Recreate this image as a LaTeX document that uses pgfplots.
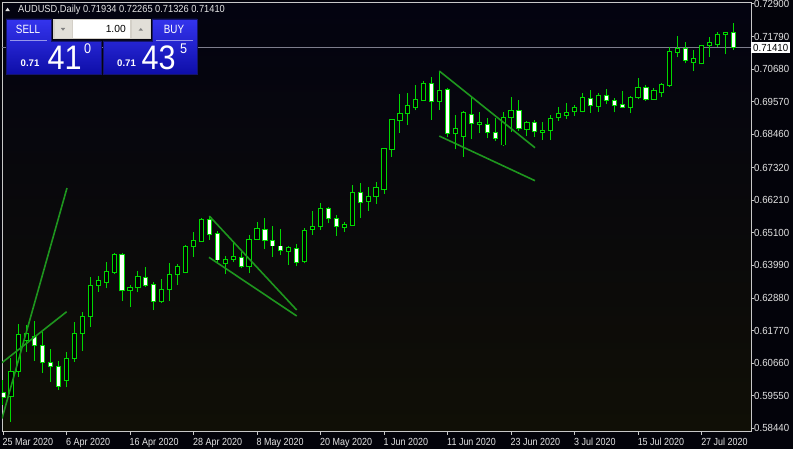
\documentclass[border=0pt]{standalone}
\usepackage{graphicx}
\usepackage{pgfplots}
\pgfplotsset{compat=1.18}
\usepackage{pgfplotstable}
\usepackage{fontspec}
\setmainfont{Liberation Sans}
\definecolor{cgreen}{RGB}{0,215,0}
\definecolor{tgreen}{RGB}{30,150,30}
\definecolor{framegray}{RGB}{200,200,200}
\definecolor{labelgray}{RGB}{228,228,228}
\definecolor{pricegray}{RGB}{125,125,140}
\definecolor{bgtop}{RGB}{3,3,16}
\definecolor{bgbot}{RGB}{16,15,6}
\definecolor{outerbg}{RGB}{3,3,10}
\definecolor{btntop}{RGB}{52,52,238}
\definecolor{btnbot}{RGB}{14,14,168}
\definecolor{btnborder}{RGB}{20,20,110}
\definecolor{spingray}{RGB}{212,208,200}
\definecolor{spinbtn}{RGB}{226,223,216}
\newcommand{\lab}[1]{\scalebox{0.87}[1]{#1}}
\newcommand{\plab}[1]{\scalebox{0.94}[1]{#1}}
\pgfplotsset{candle/.style={draw=none, fill=none, mark=none, mark size=0pt, forget plot,
  error bars/y dir=plus, error bars/y explicit, error bars/error mark=none}}

\pgfplotstableread{
i o h l c
0 0.59653 0.60085 0.59234 0.59496
1 0.59516 0.60835 0.58665 0.60368
2 0.60368 0.61993 0.60188 0.61619
3 0.61448 0.61959 0.61039 0.61653
4 0.61584 0.62106 0.60743 0.61278
5 0.61278 0.61731 0.60334 0.60665
6 0.60675 0.61142 0.60027 0.60539
7 0.60539 0.60733 0.59745 0.59881
8 0.60085 0.61050 0.59837 0.60825
9 0.60825 0.62051 0.60709 0.61653
10 0.61653 0.62412 0.61084 0.62266
11 0.62266 0.63605 0.61901 0.63322
12 0.63322 0.63639 0.63094 0.63469
13 0.63414 0.64095 0.63210 0.63775
14 0.63755 0.64422 0.63687 0.64378
15 0.64378 0.64422 0.62777 0.63118
16 0.63118 0.63322 0.62583 0.63230
17 0.63230 0.63809 0.63073 0.63605
18 0.63571 0.63945 0.63264 0.63322
19 0.63346 0.63434 0.62470 0.62753
20 0.62753 0.63516 0.62719 0.63152
21 0.63152 0.64061 0.62787 0.63663
22 0.63663 0.64038 0.63322 0.63946
23 0.63755 0.64685 0.63721 0.64627
24 0.64627 0.65138 0.64286 0.64855
25 0.64821 0.65605 0.64787 0.65537
26 0.65537 0.65673 0.64855 0.65049
27 0.65083 0.65145 0.64106 0.64174
28 0.64038 0.64320 0.63697 0.64208
29 0.64198 0.64743 0.64116 0.64286
30 0.64266 0.64457 0.63891 0.63946
31 0.63969 0.65026 0.63721 0.64879
32 0.64879 0.65458 0.64855 0.65254
33 0.65220 0.65594 0.64538 0.64831
34 0.64855 0.65332 0.64286 0.64651
35 0.64651 0.65220 0.64344 0.64491
36 0.64457 0.64651 0.64003 0.64593
37 0.64572 0.64719 0.63959 0.64095
38 0.64116 0.65254 0.64061 0.65196
39 0.65220 0.65833 0.65036 0.65332
40 0.65308 0.66133 0.65196 0.65935
41 0.65935 0.65990 0.65424 0.65571
42 0.65594 0.65707 0.65002 0.65308
43 0.65288 0.65458 0.65138 0.65400
44 0.65366 0.66729 0.65342 0.66467
45 0.66467 0.66787 0.65615 0.66126
46 0.66160 0.66651 0.65853 0.66354
47 0.66330 0.66821 0.66082 0.66651
48 0.66559 0.68000 0.66422 0.67956
49 0.67945 0.68978 0.67693 0.68944
50 0.68920 0.69829 0.68511 0.69172
51 0.69172 0.69874 0.68773 0.69421
52 0.69376 0.70136 0.69274 0.69649
53 0.69625 0.70272 0.69601 0.70194
54 0.70194 0.70398 0.68944 0.69567
55 0.69567 0.70613 0.69284 0.69942
56 0.69966 0.70024 0.68354 0.68490
57 0.68490 0.69114 0.67945 0.68661
58 0.68375 0.69250 0.67693 0.69192
59 0.69148 0.69717 0.68286 0.68831
60 0.68807 0.69226 0.68490 0.68852
61 0.68797 0.69001 0.68320 0.68511
62 0.68511 0.69001 0.68238 0.68320
63 0.68092 0.69226 0.68068 0.69036
64 0.69036 0.69737 0.68545 0.69284
65 0.69284 0.69625 0.68579 0.68661
66 0.68627 0.68910 0.68398 0.68852
67 0.68852 0.68944 0.68375 0.68545
68 0.68525 0.68886 0.68262 0.68603
69 0.68579 0.69114 0.68262 0.69001
70 0.69012 0.69397 0.68910 0.69165
71 0.69090 0.69513 0.68978 0.69192
72 0.69226 0.69455 0.69080 0.69376
73 0.69250 0.69853 0.69206 0.69717
74 0.69683 0.69966 0.69192 0.69431
75 0.69397 0.69853 0.69226 0.69795
76 0.69772 0.70000 0.69478 0.69601
77 0.69601 0.69683 0.69206 0.69431
78 0.69478 0.69932 0.69360 0.69376
79 0.69376 0.69761 0.69172 0.69717
80 0.69717 0.70364 0.69649 0.70058
81 0.70044 0.70136 0.69601 0.69649
82 0.69659 0.70024 0.69640 0.69942
83 0.69874 0.70194 0.69717 0.70160
84 0.70136 0.71441 0.70078 0.71271
85 0.71250 0.71816 0.71080 0.71386
86 0.71363 0.71611 0.70875 0.70954
87 0.70909 0.71329 0.70613 0.71046
88 0.70852 0.71499 0.70835 0.71475
89 0.71465 0.71761 0.71080 0.71591
90 0.71523 0.71952 0.71441 0.71863
91 0.71840 0.71952 0.71182 0.71932
92 0.71934 0.72265 0.71326 0.71410
}\candles

\begin{document}
\begin{tikzpicture}
\path[use as bounding box] (0pt,0pt) rectangle (793pt,-449pt);
\fill[outerbg] (0pt,0pt) rectangle (793pt,-449pt);
\begin{axis}[
  at={(2pt,-431.5pt)}, anchor=south west,
  scale only axis, width=749pt, height=429.5pt,
  xmin=-0.126, xmax=94.23, ymin=0.58331, ymax=0.72964,
  axis background/.style={top color=bgtop, bottom color=bgbot},
  axis line style={draw=framegray, line width=0.9pt},
  tick style={draw=framegray, line width=0.9pt},
  tick align=outside, major tick length=3pt,
  xtick pos=bottom, ytick pos=right, yticklabel pos=right,
  xtick={0,8,16,24,32,40,48,56,64,72,80,88},
  xticklabels={{\lab{25 Mar 2020}},{\lab{6 Apr 2020}},{\lab{16 Apr 2020}},{\lab{28 Apr 2020}},{\lab{8 May 2020}},{\lab{20 May 2020}},{\lab{1 Jun 2020}},{\lab{11 Jun 2020}},{\lab{23 Jun 2020}},{\lab{3 Jul 2020}},{\lab{15 Jul 2020}},{\lab{27 Jul 2020}}},
  ytick={0.5844,0.5955,0.6066,0.6177,0.6288,0.6399,0.6510,0.6621,0.6732,0.6846,0.6957,0.7068,0.7179,0.7290},
  yticklabels={{\plab{0.58440}},{\plab{0.59550}},{\plab{0.60660}},{\plab{0.61770}},{\plab{0.62880}},{\plab{0.63990}},{\plab{0.65100}},{\plab{0.66210}},{\plab{0.67320}},{\plab{0.68460}},{\plab{0.69570}},{\plab{0.70680}},{\plab{0.71790}},{\plab{0.72900}}},
  xticklabel style={anchor=north west, inner sep=0pt, font=\fontsize{10.3}{11}\selectfont, text=labelgray, xshift=-0.5pt, yshift=-3.5pt},
  yticklabel style={anchor=west, inner sep=0pt, font=\fontsize{10.3}{11}\selectfont, text=labelgray},
  clip mode=individual,
]
\addplot[pricegray, line width=1pt, forget plot] coordinates {(-0.3,0.7141) (94.4,0.7141)};
% wicks
\addplot[candle, error bars/error bar style={draw=cgreen, line width=1pt, solid}]
  table[x=i, y=l, y error plus expr={\thisrow{h}-\thisrow{l}}] {\candles};
% body outlines
\addplot[candle, error bars/error bar style={draw=cgreen, line width=5.2pt, solid}]
  table[x=i, y expr={min(\thisrow{o},\thisrow{c})-0.00017}, y error plus expr={abs(\thisrow{c}-\thisrow{o})+0.00034}] {\candles};
% bull bodies (hollow)
\addplot[candle, restrict expr to domain={\thisrow{c}-\thisrow{o}}{0:1},
  error bars/error bar style={draw=black, line width=3.2pt, solid}]
  table[x=i, y expr={min(\thisrow{o},\thisrow{c})+0.00017}, y error plus expr={max(abs(\thisrow{c}-\thisrow{o})-0.00034,0)}] {\candles};
% bear bodies (white)
\addplot[candle, restrict expr to domain={\thisrow{c}-\thisrow{o}}{-1:0},
  error bars/error bar style={draw=white, line width=3.2pt, solid}]
  table[x=i, y expr={min(\thisrow{o},\thisrow{c})+0.00017}, y error plus expr={max(abs(\thisrow{c}-\thisrow{o})-0.00034,0)}] {\candles};
% trendlines
\addplot[tgreen, line width=1.6pt, forget plot] coordinates {(-0.126,0.58774) (8.06,0.66627)};
\addplot[tgreen, line width=1.6pt, forget plot] coordinates {(-0.126,0.60676) (8.02,0.62412)};
\addplot[tgreen, line width=1.6pt, forget plot] coordinates {(25.99,0.65673) (37.0,0.62470)};
\addplot[tgreen, line width=1.6pt, forget plot] coordinates {(25.95,0.64266) (37.0,0.62266)};
\addplot[tgreen, line width=1.6pt, forget plot] coordinates {(54.96,0.70613) (67.02,0.68000)};
\addplot[tgreen, line width=1.6pt, forget plot] coordinates {(54.96,0.68398) (67.02,0.66876)};
\node[anchor=west, fill=white, text=black, inner xsep=2pt, inner ysep=2pt, font=\fontsize{10.3}{11}\selectfont] at (axis cs:94.23,0.7141) {\plab{0.71410}};
\end{axis}
\begin{scope}[x=1pt,y=-1pt]
% header
\fill[labelgray] (5.3,11.2) -- (9.9,11.2) -- (7.6,7.6) -- cycle;
\node[anchor=west, inner sep=0pt, text=labelgray, font=\fontsize{10.3}{11}\selectfont] at (18,9.6) {\scalebox{0.9}[1]{AUDUSD,Daily 0.71934 0.72265 0.71326 0.71410}};
% sell and buy panels
\shade[top color=btntop, bottom color=btnbot, draw=btnborder, line width=0.8pt]
  (6,19) -- (51,19) -- (51,41) -- (101,41) -- (101,74) -- (6,74) -- cycle;
\shade[top color=btntop, bottom color=btnbot, draw=btnborder, line width=0.8pt]
  (152,19) -- (197,19) -- (197,74) -- (103,74) -- (103,41) -- (152,41) -- cycle;
\draw[color={rgb,255:red,150;green,150;blue,235}, line width=0.8pt] (10,40.6) -- (47,40.6);
\draw[color={rgb,255:red,150;green,150;blue,235}, line width=0.8pt] (156,40.6) -- (193,40.6);
\node[text=white, inner sep=0pt, font=\fontsize{12}{12}\selectfont] at (28,29.5) {\scalebox{0.82}[1]{SELL}};
\node[text=white, inner sep=0pt, font=\fontsize{12}{12}\selectfont] at (174,29.5) {\scalebox{0.82}[1]{BUY}};
% lot spinner
\fill[spingray] (53,19) rectangle (151,39.5);
\fill[white] (73,20.5) rectangle (130,38.5);
\fill[spinbtn] (54.5,20.5) rectangle (71.5,38.5);
\fill[spinbtn] (131.5,20.5) rectangle (150,38.5);
\fill[gray] (60.8,28) -- (65.2,28) -- (63,30.6) -- cycle;
\fill[gray] (138.6,30.6) -- (143,30.6) -- (140.8,28) -- cycle;
\node[anchor=east, inner sep=0pt, text=black, font=\fontsize{10.3}{11}\selectfont] at (126,29.2) {1.00};
% prices
\node[anchor=base west, inner sep=0pt, text=white, font=\bfseries\fontsize{9.6}{10}\selectfont] at (20.5,66.6) {0.71};
\node[anchor=base west, inner sep=0pt, text=white, font=\fontsize{34}{34}\selectfont] at (47.5,70) {\scalebox{0.9}[1]{41}};
\node[anchor=base west, inner sep=0pt, text=white, font=\fontsize{14}{14}\selectfont] at (84,54) {\scalebox{0.9}[1]{0}};
\node[anchor=base west, inner sep=0pt, text=white, font=\bfseries\fontsize{9.6}{10}\selectfont] at (117,66.6) {0.71};
\node[anchor=base west, inner sep=0pt, text=white, font=\fontsize{34}{34}\selectfont] at (141.3,70) {\scalebox{0.9}[1]{43}};
\node[anchor=base west, inner sep=0pt, text=white, font=\fontsize{14}{14}\selectfont] at (180,54) {\scalebox{0.9}[1]{5}};
\end{scope}
\end{tikzpicture}
\end{document}
